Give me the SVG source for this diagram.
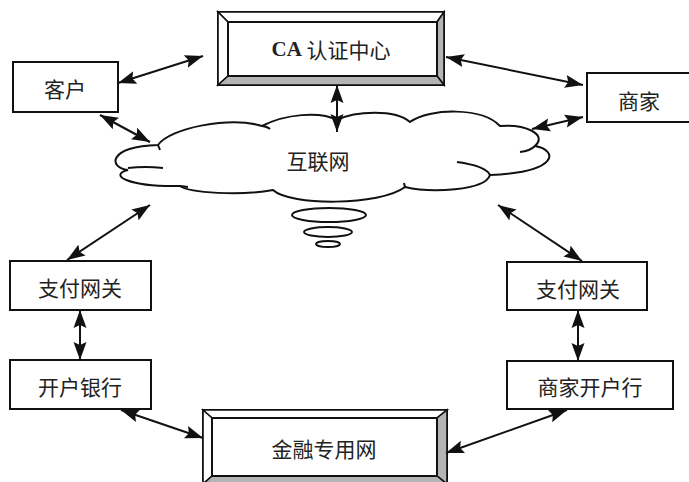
<svg xmlns="http://www.w3.org/2000/svg" width="689" height="482" viewBox="0 0 689 482">
<style>
.box{fill:#fff;stroke:#111;stroke-width:2}
.bev{stroke:#111;stroke-width:1.6}
.lt{fill:#fff}
.dk{fill:#b4b4b4}
.t{font-family:"Noto Sans CJK SC","Liberation Serif",serif;font-size:21px;fill:#222;text-anchor:middle;dominant-baseline:central}
.ca{font-family:"Liberation Serif",serif;font-weight:bold}
.cl{fill:#fff;stroke:#111;stroke-width:2}
.tail{fill:none;stroke:#111;stroke-width:2}
.ar{fill:none;stroke:#111;stroke-width:2;marker-start:url(#ah);marker-end:url(#ah)}
</style>
<defs>
<marker id="ah" markerUnits="userSpaceOnUse" markerWidth="20" markerHeight="14" refX="18" refY="6.5" orient="auto-start-reverse" viewBox="0 0 20 13">
<path d="M0,0 L18,6.5 L0,13 L3,6.5 z" fill="#111"/>
</marker>
</defs>

<g id="ca">
<rect class="box" x="218" y="12" width="226" height="73"/>
<polygon class="bev lt" points="218,12 444,12 437,22 228,22"/>
<polygon class="bev lt" points="218,12 228,22 228,76 218,85"/>
<polygon class="bev dk" points="444,12 444,85 437,76 437,22"/>
<polygon class="bev dk" points="218,85 228,76 437,76 444,85"/>
<rect class="box" x="228" y="22" width="209" height="54"/>
<text class="t" x="331" y="49"><tspan class="ca">CA</tspan> 认证中心</text>
</g>

<g id="kehu">
<rect class="box" x="13" y="62" width="105" height="50"/>
<text class="t" x="65" y="88">客户</text>
</g>

<g id="shangjia">
<rect class="box" x="587" y="73" width="106" height="49"/>
<text class="t" x="639" y="100">商家</text>
</g>

<g id="internet">
<path class="cl" d="M128 170 C108 168,108 146,158 145 C170 128,230 116,262 126 C285 114,320 111,337 120 C355 111,395 109,410 122 C430 108,482 107,500 126 C525 124,548 134,535 146 C558 150,560 172,490 175 C485 191,430 193,405 187 C380 206,290 206,273 190 C240 196,190 193,180 186 C128 187,108 175,128 170 Z"/>
<path class="tail" d="M128 168 Q145 166 163 168"/>
<path class="tail" d="M158 145 L160 150"/>
<path class="tail" d="M262 126 Q268 127 270 129"/>
<path class="tail" d="M535 146 Q530 151 520 152"/>
<path class="tail" d="M457 162 Q486 166 490 175"/>
<path class="tail" d="M405 187 L404 183"/>
<path class="tail" d="M180 186 L188 187"/>
<text class="t" x="318" y="160">互联网</text>
<ellipse class="tail" cx="329" cy="215" rx="37" ry="7"/>
<ellipse class="tail" cx="328" cy="232" rx="24" ry="5"/>
<ellipse class="tail" cx="328" cy="244" rx="12" ry="3"/>
</g>

<g id="zhifu-left">
<rect class="box" x="10" y="261" width="141" height="49"/>
<text class="t" x="80" y="287">支付网关</text>
</g>

<g id="bank-left">
<rect class="box" x="10" y="360" width="141" height="49"/>
<text class="t" x="80" y="386">开户银行</text>
</g>

<g id="zhifu-right">
<rect class="box" x="507" y="262" width="140" height="48"/>
<text class="t" x="578" y="288">支付网关</text>
</g>

<g id="bank-right">
<rect class="box" x="507" y="361" width="166" height="48"/>
<text class="t" x="590" y="386">商家开户行</text>
</g>

<g id="finance">
<rect class="box" x="203" y="410" width="244" height="74"/>
<polygon class="bev lt" points="203,410 447,410 437,418 212,418"/>
<polygon class="bev lt" points="203,410 212,418 212,476 203,484"/>
<polygon class="bev dk" points="447,410 447,484 437,476 437,418"/>
<polygon class="bev dk" points="203,484 212,476 437,476 447,484"/>
<rect class="box" x="212" y="418" width="225" height="58"/>
<text class="t" x="324" y="448">金融专用网</text>
</g>

<g id="connectors">
<line class="ar" x1="118" y1="83" x2="203" y2="56"/>
<line class="ar" x1="100" y1="115" x2="150" y2="142"/>
<line class="ar" x1="337" y1="85" x2="337" y2="132"/>
<line class="ar" x1="446" y1="57" x2="583" y2="85"/>
<line class="ar" x1="532" y1="129" x2="583" y2="117"/>
<line class="ar" x1="67" y1="260" x2="150" y2="205"/>
<line class="ar" x1="498" y1="205" x2="582" y2="261"/>
<line class="ar" x1="80" y1="310" x2="80" y2="360"/>
<line class="ar" x1="578" y1="310" x2="578" y2="361"/>
<line class="ar" x1="121" y1="410" x2="203" y2="438"/>
<line class="ar" x1="446" y1="453" x2="567" y2="410"/>
</g>
</svg>
